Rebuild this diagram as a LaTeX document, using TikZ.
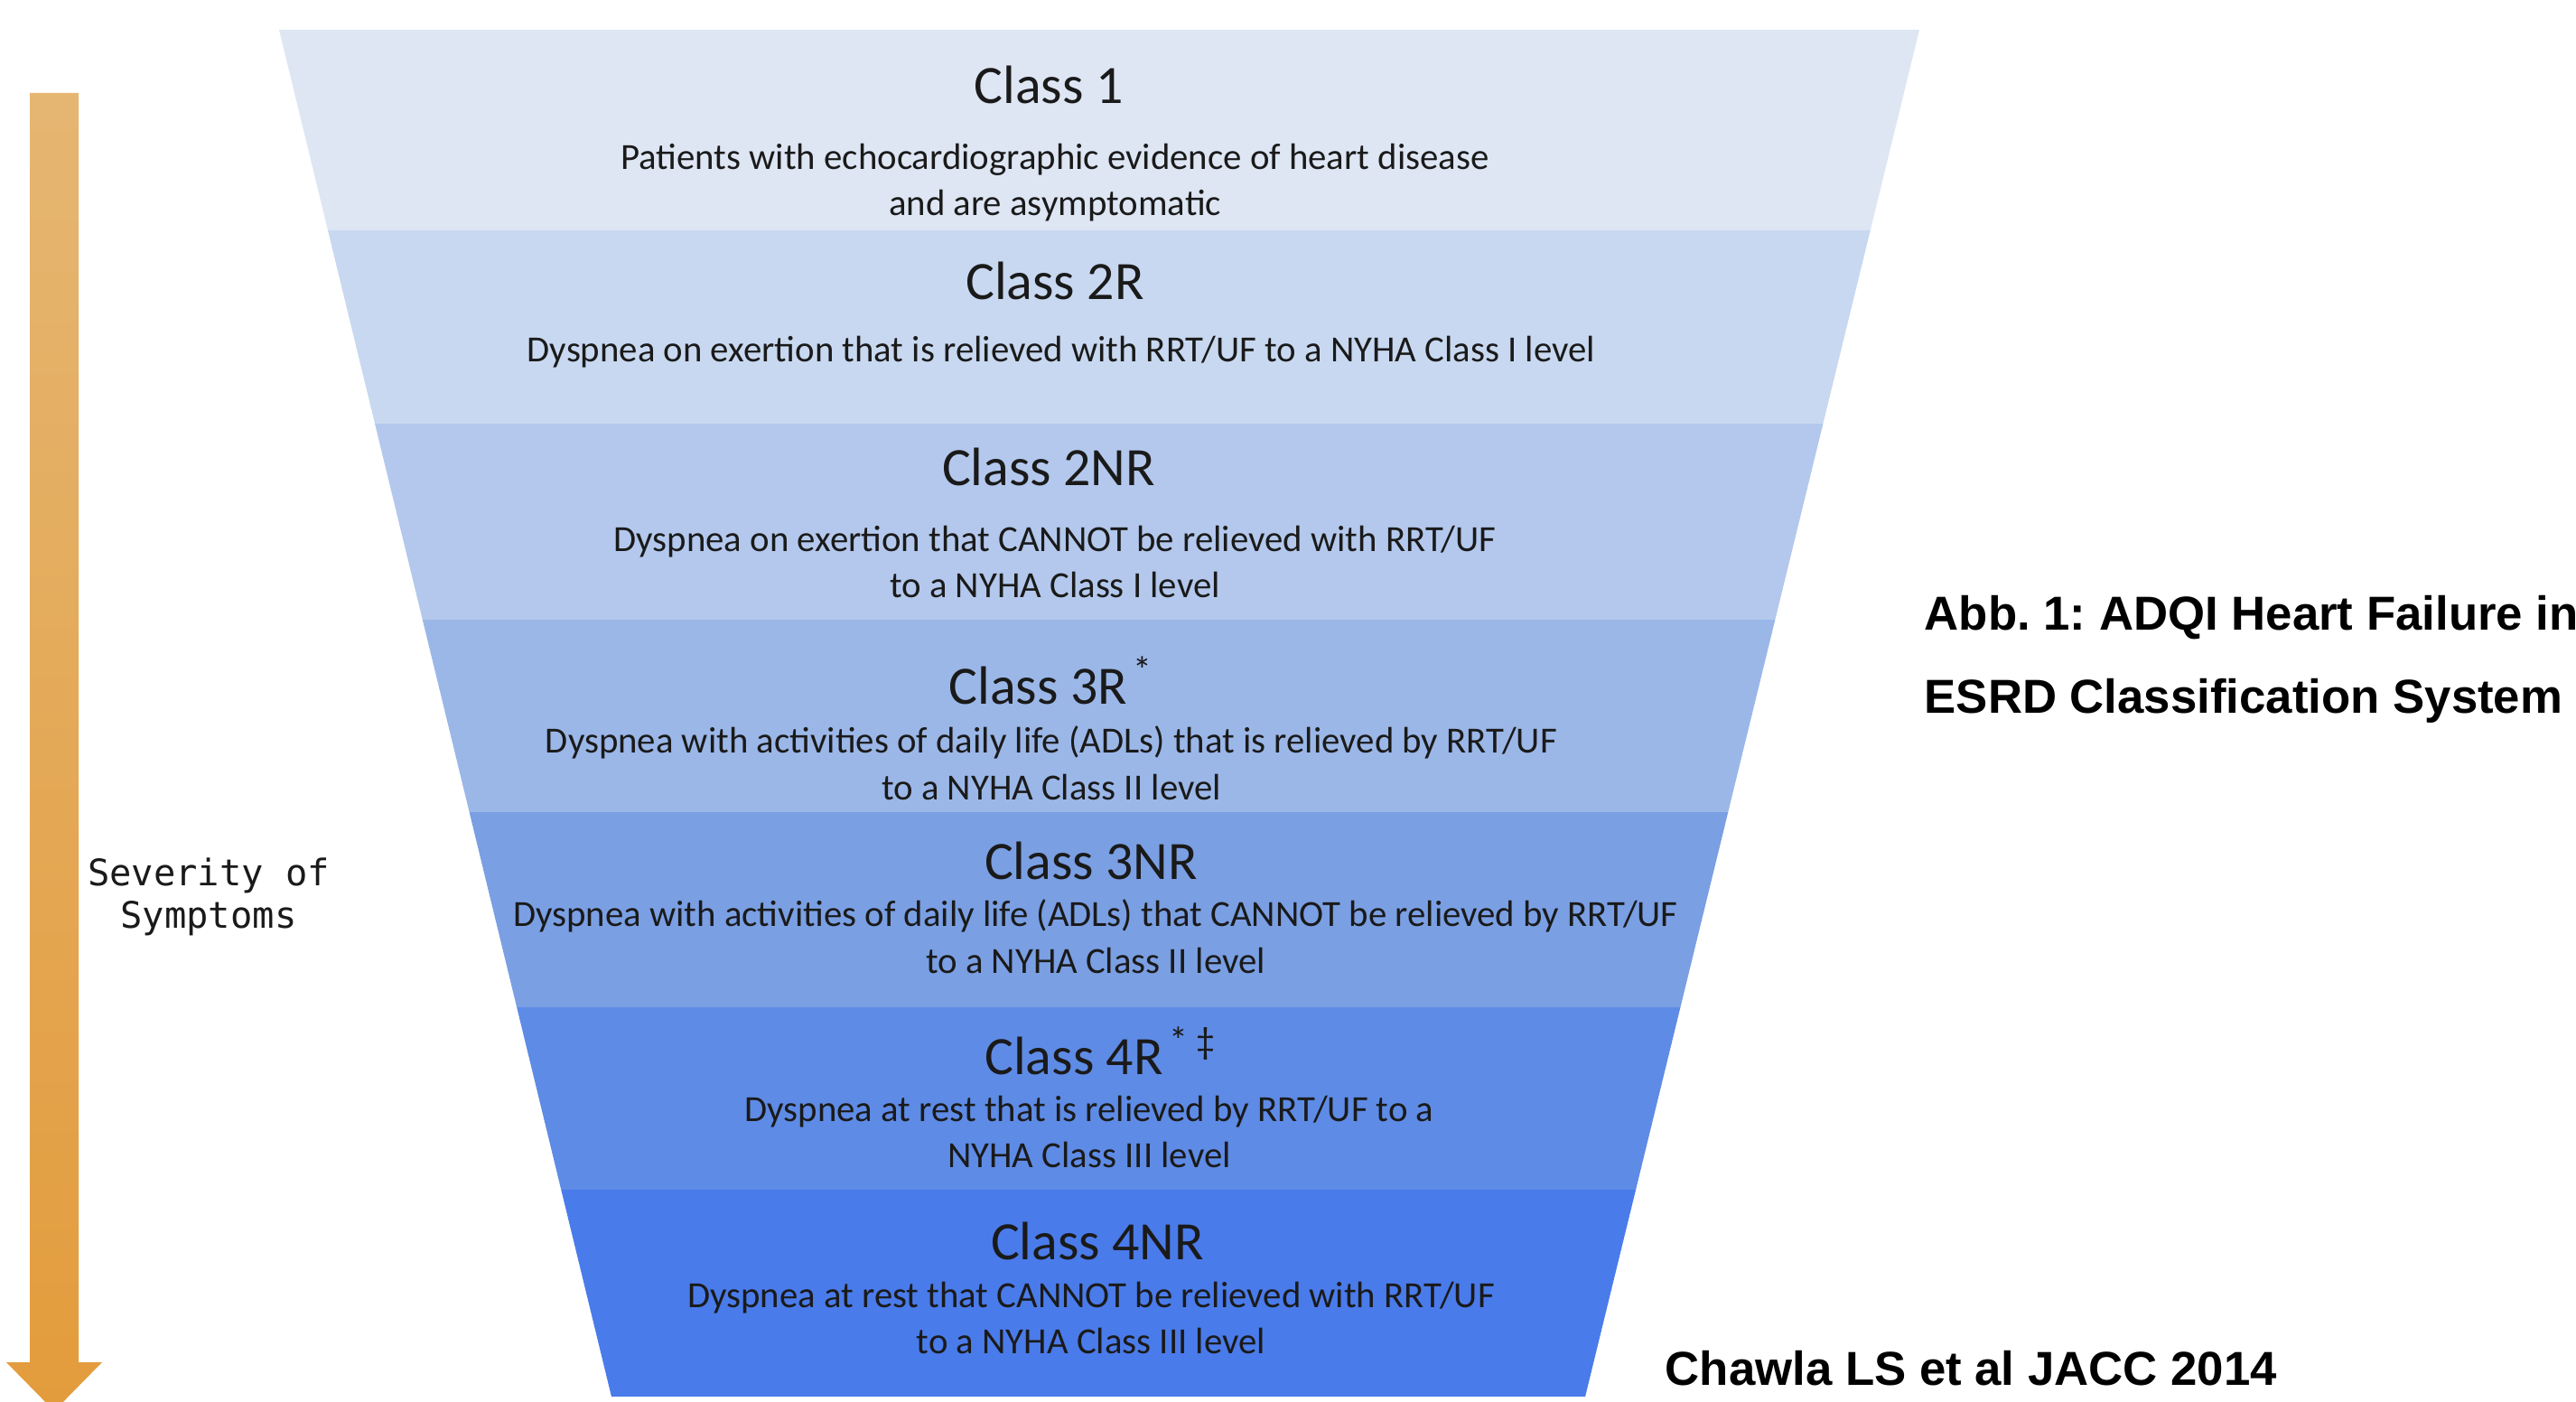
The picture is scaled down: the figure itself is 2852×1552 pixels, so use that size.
\documentclass[tikz,border=0pt]{standalone}
\usepackage{fontspec}
\setmainfont{Carlito}
\newfontfamily\arialfont{Liberation Sans}
\newfontfamily\codefont{DejaVu Sans Mono}
\frenchspacing
\definecolor{bandA}{HTML}{DEE6F4}
\definecolor{bandB}{HTML}{C8D8F0}
\definecolor{bandC}{HTML}{B3C8EC}
\definecolor{bandD}{HTML}{9BB7E8}
\definecolor{bandE}{HTML}{7A9FE3}
\definecolor{bandF}{HTML}{5E8BE5}
\definecolor{bandG}{HTML}{4A7BEA}
\definecolor{arrowtop}{HTML}{E5B672}
\definecolor{arrowbot}{HTML}{E39C3C}
\definecolor{textdark}{HTML}{1A1A1A}
\tikzset{classtitle/.style={font=\fontsize{17}{20}\selectfont,text=textdark,inner sep=0pt,anchor=base}}
\tikzset{classdesc/.style={font=\fontsize{11.6}{14.7}\selectfont,text=textdark,align=center,inner sep=0pt}}
\tikzset{caption/.style={font=\arialfont\bfseries\fontsize{15}{26.3}\selectfont,align=left,inner sep=0pt}}

\begin{document}
\begin{tikzpicture}[x=0.01cm,y=-0.01cm]
            \useasboundingbox (0,0) rectangle (2852,1552);
            % funnel
            \foreach \ya/\yb/\col in {33/255/bandA,255/469/bandB,469/686/bandC,686/899/bandD,899/1115/bandE,1115/1317/bandF,1317/1546/bandG}
                \fill[\col] ({309+0.2432*(\ya-33)},\ya) -- ({2125-0.2445*(\ya-33)},\ya) -- ({2125-0.2445*(\yb-33)},\yb) -- ({309+0.2432*(\yb-33)},\yb) -- cycle;
            % severity arrow
            \shade[top color=arrowtop,bottom color=arrowbot] (33,103) -- (87,103) -- (87,1508) -- (113,1508) -- (60,1562) -- (7,1508) -- (33,1508) -- cycle;
            \node[font=\codefont\fontsize{11.5}{13.3}\selectfont,align=center,text=textdark,inner sep=0pt] (sev) at (231,993) {Severity of\\Symptoms};

            \node[classtitle] (c1) at (1161,115) {Class 1};
            \node[classdesc] (d1) at (1168,202) {Patients with echocardiographic evidence of heart disease\\and are asymptomatic};
            \node[classtitle] (c2r) at (1168,332) {Class 2R};
            \node[classdesc] (d2r) at (1175,390) {Dyspnea on exertion that is relieved with RRT/UF to a NYHA Class I level};
            \node[classtitle] (c2nr) at (1161,537) {Class 2NR};
            \node[classdesc] (d2nr) at (1168,622) {Dyspnea on exertion that CANNOT be relieved with RRT/UF\\to a NYHA Class I level};
            \node[classtitle] (c3r) at (1164,779) {Class 3R\textsuperscript{\,*}};
            \node[classdesc] (d3r) at (1164,845) {Dyspnea with activities of daily life (ADLs) that is relieved by RRT/UF\\to a NYHA Class II level};
            \node[classtitle] (c3nr) at (1208,973) {Class 3NR};
            \node[classdesc] (d3nr) at (1213,1037) {Dyspnea with activities of daily life (ADLs) that CANNOT be relieved by RRT/UF\\to a NYHA Class II level};
            \node[classtitle] (c4r) at (1219,1189) {Class 4R\textsuperscript{\,* \textdaggerdbl}};
            \node[classdesc] (d4r) at (1206,1253) {Dyspnea at rest that is relieved by RRT/UF to a\\NYHA Class III level};
            \node[classtitle] (c4nr) at (1215,1394) {Class 4NR};
            \node[classdesc] (d4nr) at (1208,1459) {Dyspnea at rest that CANNOT be relieved with RRT/UF\\to a NYHA Class III level};

            \node[caption,anchor=west] (abb) at (2130,730) {Abb. 1: ADQI Heart Failure in\\ESRD Classification System};
            \node[caption,anchor=base west] (src) at (1843,1533) {Chawla LS et al JACC 2014};
        \end{tikzpicture}
\end{document}
